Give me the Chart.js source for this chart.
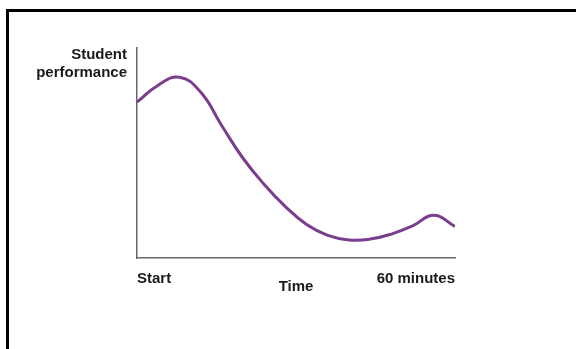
<!DOCTYPE html>
<html>
<head>
<meta charset="utf-8">
<script src="https://cdn.jsdelivr.net/npm/chart.js@4/dist/chart.umd.min.js"></script>
<style>
  html, body { margin: 0; padding: 0; background: #fff; }
  #frame {
    position: absolute; left: 6px; top: 9px; right: 0; bottom: 0;
    border-top: 3px solid #000; border-left: 3px solid #000;
  }
  #wrap { position: absolute; left: 0; top: 0; width: 576px; height: 349px; }
</style>
</head>
<body>
<div id="frame"></div>
<div id="wrap"><canvas id="chart"></canvas></div>
<script>
// minutes into the lesson
const minutes = [0, 4, 8, 12, 16, 20, 24, 28, 32, 36, 40, 44, 48, 52, 56, 60];
// performance, arbitrary 0-100 scale
const performance = [74.2, 82.3, 86.1, 79, 63, 47.5, 35, 24.5, 16, 10.8, 8.6, 9, 11.4, 15.3, 20.3, 15];
const xTickLabels = { 0: 'Start', 60: '60 minutes' };
const yTitle = ['Student', 'performance'];
const xTitle = 'Time';

const labelFont = { family: "'Liberation Sans', Arial, sans-serif", size: 15, weight: 'bold' };

// y title sits to the left of the axis top, right aligned
const yTitlePlugin = {
  id: 'yTitle',
  afterDraw(chart) {
    const { ctx, chartArea } = chart;
    ctx.save();
    ctx.font = 'bold 15px "Liberation Sans", Arial, sans-serif';
    ctx.fillStyle = '#1a1a1a';
    ctx.textAlign = 'right';
    ctx.textBaseline = 'middle';
    yTitle.forEach((t, i) => ctx.fillText(t, chartArea.left - 10, chartArea.top + 7 + i * 18));
    ctx.restore();
  }
};

new Chart(document.getElementById('chart'), {
  type: 'line',
  data: {
    datasets: [{
      data: minutes.map((m, i) => ({ x: m, y: performance[i] })),
      borderColor: '#7b3d8e',
      borderWidth: 3,
      pointRadius: 0,
      tension: 0.45,
      fill: false
    }]
  },
  options: {
    responsive: true,
    maintainAspectRatio: false,
    animation: false,
    layout: { padding: { left: 137, right: 121, top: 48, bottom: 49 } },
    plugins: { legend: { display: false }, tooltip: { enabled: false } },
    scales: {
      x: {
        type: 'linear', min: 0, max: 60,
        grid: { display: false, drawTicks: false },
        border: { color: '#666', width: 1.5 },
        afterBuildTicks: axis => { axis.ticks = [{ value: 0 }, { value: 60 }]; },
        ticks: {
          callback: v => xTickLabels[v] || '',
          align: 'inner', maxRotation: 0, padding: 12,
          color: '#1a1a1a', font: labelFont
        },
        title: { display: true, text: xTitle, color: '#1a1a1a', font: labelFont, padding: { top: -22 } }
      },
      y: {
        min: 0, max: 100,
        grid: { display: false, drawTicks: false },
        border: { color: '#666', width: 1.5 },
        ticks: { display: false }
      }
    }
  },
  plugins: [yTitlePlugin]
});
</script>
</body>
</html>
